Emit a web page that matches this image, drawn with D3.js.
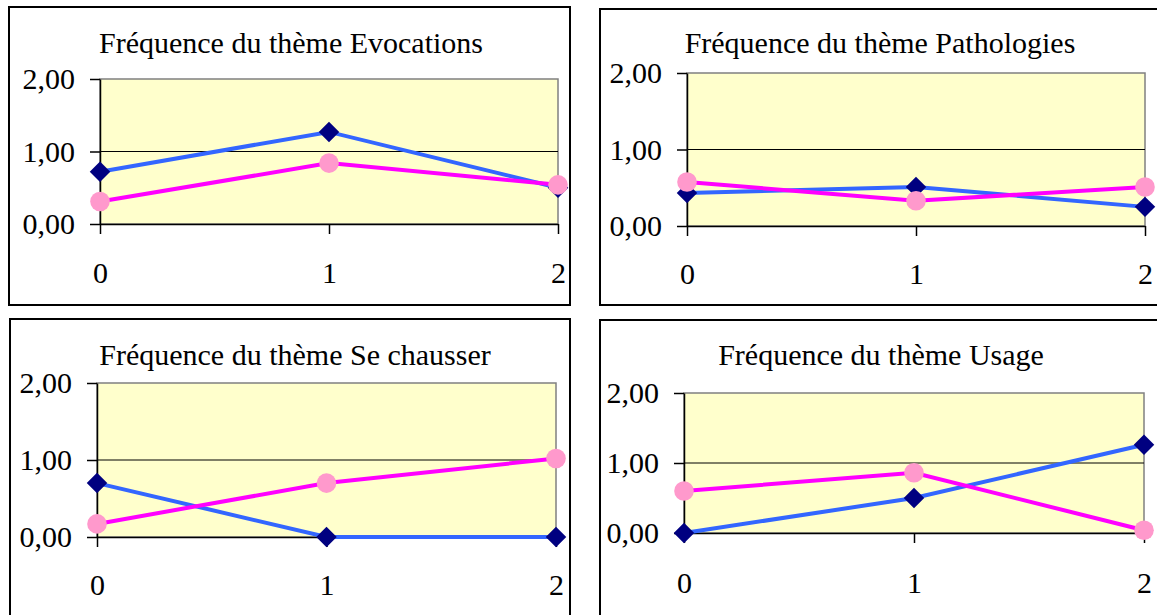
<!DOCTYPE html>
<html>
<head>
<meta charset="utf-8">
<script src="https://cdn.jsdelivr.net/npm/d3@7"></script>
<style>
  html, body { margin: 0; padding: 0; background: #ffffff; }
  svg { display: block; }
  text { font-family: "Liberation Serif", "Times New Roman", serif; fill: #000; }
</style>
</head>
<body>
<svg id="chart" width="1157" height="615"></svg>
<script>
// ---- data ----
const themes = ["Evocations", "Pathologies", "Se chausser", "Usage"];
const titlePrefix = "Fréquence du thème ";
const categories = ["0", "1", "2"];
const yTickValues = [0, 1, 2];
const yTickLabels = ["0,00", "1,00", "2,00"];
const yDomain = [0, 2];

// series 1 (blue line, navy diamonds), one array per theme
const blueEvocations  = [0.72, 1.27, 0.50];
const bluePathologies = [0.43, 0.51, 0.25];
const blueSeChausser  = [0.70, 0.00, 0.00];
const blueUsage       = [0.00, 0.50, 1.26];

// series 2 (magenta line, pink circles), one array per theme
const pinkEvocations  = [0.31, 0.84, 0.54];
const pinkPathologies = [0.575, 0.33, 0.51];
const pinkSeChausser  = [0.17, 0.70, 1.02];
const pinkUsage       = [0.60, 0.86, 0.04];

const blueSeries = [blueEvocations, bluePathologies, blueSeChausser, blueUsage];
const pinkSeries = [pinkEvocations, pinkPathologies, pinkSeChausser, pinkUsage];

// ---- layout ----
const layouts = [
  { frame: [9, 7, 570, 305],    plot: { l: 100, r: 558,  t: 79,  b: 224 }, titleX: 291, titleY: 53,  xLabBase: 283 },
  { frame: [600, 9, 1180, 305], plot: { l: 687, r: 1145, t: 73,  b: 226 }, titleX: 880, titleY: 53,  xLabBase: 284 },
  { frame: [10, 319, 570, 640], plot: { l: 97,  r: 556,  t: 383, b: 537 }, titleX: 295, titleY: 365, xLabBase: 595 },
  { frame: [600, 320, 1180, 640], plot: { l: 684, r: 1144, t: 393, b: 533 }, titleX: 881, titleY: 365, xLabBase: 593 }
];

const style = {
  fontSize: 30,
  plotBg: "#FFFFCC",
  plotBorder: "#808080",
  blueLine: "#3366FF",
  blueMarker: "#000080",
  pinkLine: "#FF00FF",
  pinkMarker: "#FF99CC"
};

const svg = d3.select("#chart");

themes.forEach((theme, i) => {
  const L = layouts[i];
  const p = L.plot;
  const g = svg.append("g");

  // frame
  g.append("rect")
    .attr("x", L.frame[0]).attr("y", L.frame[1])
    .attr("width", L.frame[2] - L.frame[0]).attr("height", L.frame[3] - L.frame[1])
    .attr("fill", "#fff").attr("stroke", "#000").attr("stroke-width", 2);

  const x = d3.scalePoint().domain(categories).range([p.l, p.r]);
  const y = d3.scaleLinear().domain(yDomain).range([p.b, p.t]);

  // plot area
  g.append("rect")
    .attr("x", p.l).attr("y", p.t)
    .attr("width", p.r - p.l).attr("height", p.b - p.t)
    .attr("fill", style.plotBg)
    .attr("stroke", style.plotBorder).attr("stroke-width", 1.5);

  // gridlines (interior)
  g.append("g").selectAll("line")
    .data(yTickValues.filter(v => v > yDomain[0] && v < yDomain[1]))
    .join("line")
    .attr("x1", p.l).attr("x2", p.r)
    .attr("y1", d => y(d)).attr("y2", d => y(d))
    .attr("stroke", "#000").attr("stroke-width", 1);

  // y axis
  const yAxis = d3.axisLeft(y)
    .tickValues(yTickValues)
    .tickFormat((d, k) => yTickLabels[yTickValues.indexOf(d)])
    .tickSize(10).tickSizeOuter(0).tickPadding(15);
  const ya = g.append("g").attr("transform", `translate(${p.l},0)`).call(yAxis);
  ya.selectAll("path.domain").attr("stroke", "#000").attr("stroke-width", 1.5);
  ya.selectAll(".tick line").attr("stroke", "#000").attr("stroke-width", 1.5);
  ya.selectAll(".tick text")
    .style("font-family", "'Liberation Serif', 'Times New Roman', serif")
    .style("font-size", style.fontSize + "px")
    .attr("fill", "#000");

  // x axis
  const xAxis = d3.axisBottom(x).tickSize(10).tickSizeOuter(0).tickPadding(0);
  const xa = g.append("g").attr("transform", `translate(0,${p.b})`).call(xAxis);
  xa.selectAll("path.domain").attr("stroke", "#000").attr("stroke-width", 1.5);
  xa.selectAll(".tick line").attr("stroke", "#000").attr("stroke-width", 1.5);
  xa.selectAll(".tick text")
    .style("font-family", "'Liberation Serif', 'Times New Roman', serif")
    .style("font-size", style.fontSize + "px")
    .attr("fill", "#000")
    .attr("dy", null)
    .attr("y", L.xLabBase - p.b);

  // title
  g.append("text")
    .attr("x", L.titleX).attr("y", L.titleY)
    .attr("text-anchor", "middle")
    .style("font-size", style.fontSize + "px")
    .text(titlePrefix + theme);

  const line = d3.line().x((d, k) => x(categories[k])).y(d => y(d));

  // series 1
  g.append("path").datum(blueSeries[i])
    .attr("d", line).attr("fill", "none")
    .attr("stroke", style.blueLine).attr("stroke-width", 4);
  g.append("g").selectAll("path")
    .data(blueSeries[i])
    .join("path")
    .attr("d", d3.symbol(d3.symbolSquare, 210))
    .attr("transform", (d, k) => `translate(${x(categories[k])},${y(d)}) rotate(45)`)
    .attr("fill", style.blueMarker);

  // series 2
  g.append("path").datum(pinkSeries[i])
    .attr("d", line).attr("fill", "none")
    .attr("stroke", style.pinkLine).attr("stroke-width", 4);
  g.append("g").selectAll("circle")
    .data(pinkSeries[i])
    .join("circle")
    .attr("cx", (d, k) => x(categories[k]))
    .attr("cy", d => y(d))
    .attr("r", 9.8)
    .attr("fill", style.pinkMarker);
});
</script>
</body>
</html>
